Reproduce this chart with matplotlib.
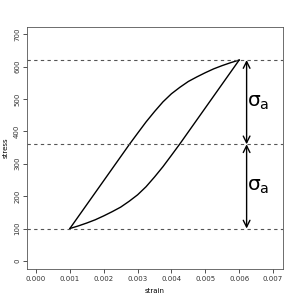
import matplotlib
matplotlib.use("Agg")
import matplotlib.pyplot as plt

# loading branch (left side, from bottom-left tip to top-right tip)
up_strain = [0.0010, 0.00276, 0.00300, 0.00325, 0.00350, 0.00375, 0.00400, 0.00425,
             0.00450, 0.00475, 0.00500, 0.00525, 0.00550, 0.00575, 0.0060]
up_stress = [100, 360, 394, 429, 461, 491, 516, 536, 554, 568, 581, 593, 603, 612, 620]

# unloading branch (right side)
down_strain = [0.0010, 0.00125, 0.0015, 0.00175, 0.0020, 0.00225, 0.0025, 0.00275,
               0.0030, 0.00325, 0.0035, 0.00375, 0.0040, 0.00424, 0.0060]
down_stress = [100, 108, 117, 127, 139, 152, 166, 184, 204, 229, 259, 291, 326, 360, 620]

levels = [620, 360, 100]
arrow_x = 0.00622

xticks = [0.000, 0.001, 0.002, 0.003, 0.004, 0.005, 0.006, 0.007]
yticks = [0, 100, 200, 300, 400, 500, 600, 700]

fig = plt.figure(figsize=(2.97, 3.04), dpi=100)
ax = fig.add_axes([0.0909, 0.1151, 0.862, 0.796])

ax.plot(up_strain, up_stress, color="black", lw=1.0)
ax.plot(down_strain, down_stress, color="black", lw=1.0)

for lv in levels:
    ax.axhline(lv, color="#555555", lw=0.8, dashes=(3, 3))

for top, bot in [(levels[0], levels[1]), (levels[1], levels[2])]:
    ax.annotate("", xy=(arrow_x, top), xytext=(arrow_x, bot),
                arrowprops=dict(arrowstyle="<->,head_length=0.6,head_width=0.3",
                                lw=1.0, color="black", mutation_scale=8,
                                shrinkA=0, shrinkB=0))
    ax.text(arrow_x + 0.00002, (top + bot) / 2, r"$\mathregular{σ_a}$",
            fontsize=14.5, ha="left", va="center")

ax.set_xlim(-0.000266, 0.007295)
ax.set_ylim(-25, 722)
ax.set_xticks(xticks)
ax.set_xticklabels([f"{t:.3f}" for t in xticks])
ax.set_yticks(yticks)
ax.set_yticklabels([str(t) for t in yticks], rotation=90, va="center")
ax.tick_params(labelsize=5, length=3, width=0.6, pad=2, colors="#333333")
for s in ax.spines.values():
    s.set_linewidth(0.6)
    s.set_color("#555555")
ax.set_xlabel("strain", fontsize=5, labelpad=4)
ax.set_ylabel("stress", fontsize=5, labelpad=4)

fig.savefig("out.png", dpi=100)
